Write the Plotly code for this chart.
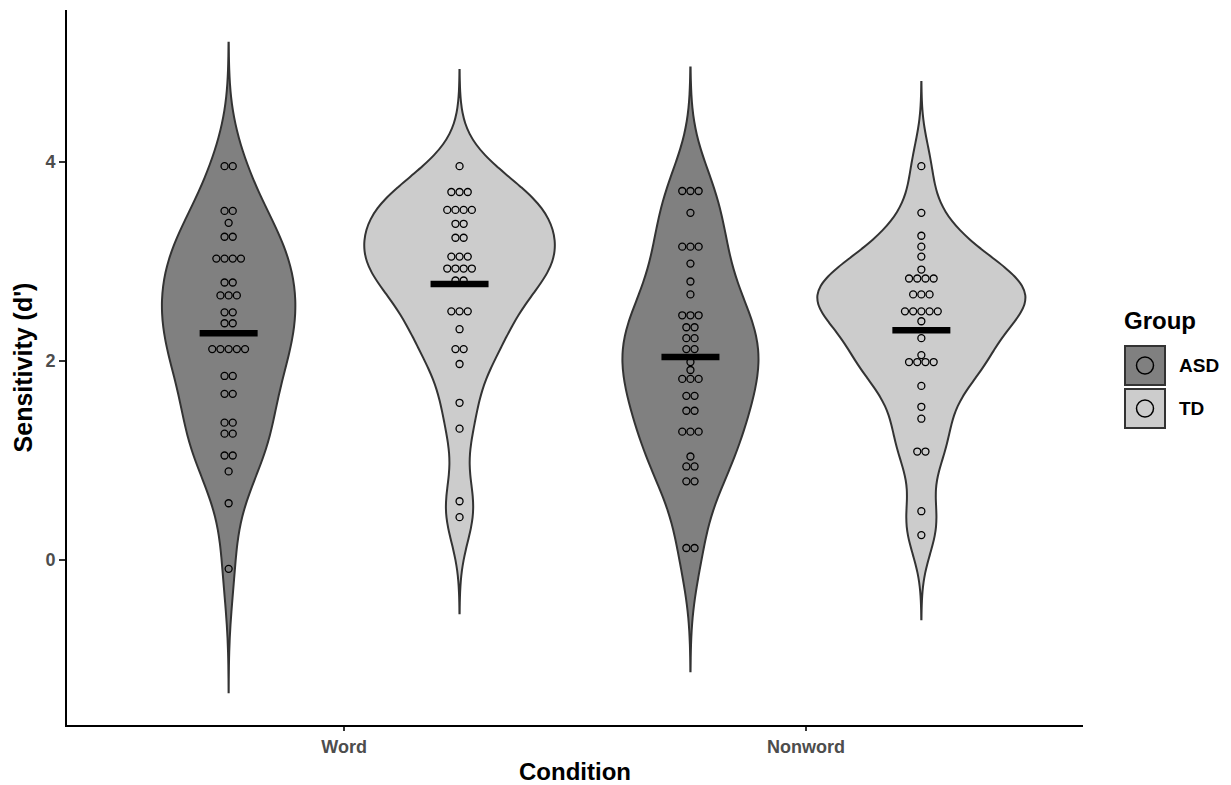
import numpy as np
import plotly.graph_objects as go

# ---------------- data ----------------
conditions = ["Word", "Nonword"]
groups = ["ASD", "TD"]

asd_word = [3.96, 3.96, 3.51, 3.51, 3.39, 3.25, 3.25, 3.03, 3.03, 3.03, 3.03,
            2.79, 2.79, 2.66, 2.66, 2.66, 2.49, 2.49, 2.38, 2.38,
            2.12, 2.12, 2.12, 2.12, 2.12, 1.85, 1.85, 1.67, 1.67,
            1.38, 1.38, 1.27, 1.27, 1.05, 1.05, 0.89, 0.57, -0.09]
td_word = [3.96, 3.70, 3.70, 3.70, 3.52, 3.52, 3.52, 3.52, 3.38, 3.38,
           3.24, 3.24, 3.05, 3.05, 3.05, 2.93, 2.93, 2.93, 2.93, 2.81, 2.81,
           2.50, 2.50, 2.50, 2.32, 2.12, 2.12, 1.97, 1.58, 1.32, 0.59, 0.43]
asd_nonword = [3.71, 3.71, 3.71, 3.49, 3.15, 3.15, 3.15, 2.98, 2.80, 2.67,
               2.46, 2.46, 2.46, 2.34, 2.34, 2.23, 2.23, 2.12, 2.12, 1.99, 1.91,
               1.82, 1.82, 1.82, 1.65, 1.65, 1.50, 1.50, 1.29, 1.29, 1.29,
               1.04, 0.94, 0.94, 0.79, 0.79, 0.12, 0.12]
td_nonword = [3.96, 3.49, 3.26, 3.15, 3.05, 2.92, 2.83, 2.83, 2.83, 2.83,
              2.67, 2.67, 2.67, 2.50, 2.50, 2.50, 2.50, 2.50, 2.40, 2.23, 2.06,
              1.99, 1.99, 1.99, 1.99, 1.75, 1.54, 1.42, 1.09, 1.09, 0.49, 0.25]

values = {
    ("Word", "ASD"): asd_word,
    ("Word", "TD"): td_word,
    ("Nonword", "ASD"): asd_nonword,
    ("Nonword", "TD"): td_nonword,
}

# ---------------- styling / layout ----------------
W, H = 1231, 785
PL, PR, PT, PB = 67, 1083, 10, 725
XR = [0.4, 2.6]
YR = [-1.66, 5.53]
FILL = {"ASD": "#808080", "TD": "#CCCCCC"}
OUTLINE = "#333333"
FONT = "Liberation Sans"
DODGE = {"ASD": -0.25, "TD": 0.25}
VIOLIN_W = 0.45          # full width of the widest violin (ggplot dodge 0.9 / 2)
XPX = (XR[1] - XR[0]) / (PR - PL)      # data units per pixel along x
DOT_STEP = 8.2 * XPX
MEAN_HALF = 29 * XPX


def nrd0(v):
    v = np.asarray(v, dtype=float)
    sd = v.std(ddof=1)
    q75, q25 = np.percentile(v, [75, 25])
    lo = min(sd, (q75 - q25) / 1.34)
    return 0.9 * lo * len(v) ** -0.2


def kde_max(v, bw):
    v = np.asarray(v, dtype=float)
    grid = np.linspace(v.min() - 3 * bw, v.max() + 3 * bw, 1024)
    z = (grid[:, None] - v[None, :]) / bw
    dens = np.exp(-0.5 * z ** 2).sum(axis=1) / (len(v) * bw * np.sqrt(2 * np.pi))
    return dens.max()


# area scaling (ggplot scale="area"): width proportional to each violin's peak density
bws = {k: nrd0(v) for k, v in values.items()}
peaks = {k: kde_max(v, bws[k]) for k, v in values.items()}
peak_all = max(peaks.values())

fig = go.Figure()

# violins
for ci, cond in enumerate(conditions):
    for g in groups:
        v = values[(cond, g)]
        bw = bws[(cond, g)]
        pos = ci + 1 + DODGE[g]
        fig.add_trace(go.Violin(
            x=[pos] * len(v), y=v, name=g, legendgroup=g, showlegend=False,
            bandwidth=bw, spanmode="manual", span=[min(v) - 3 * bw, max(v) + 3 * bw],
            width=VIOLIN_W * peaks[(cond, g)] / peak_all, scalemode="width",
            scalegroup=cond + g,
            fillcolor=FILL[g], line=dict(color=OUTLINE, width=2), opacity=1,
            points=False, box_visible=False, meanline_visible=False,
            hoverinfo="skip",
        ))

# dot stacks (centered)
for ci, cond in enumerate(conditions):
    for g in groups:
        v = values[(cond, g)]
        center = ci + 1 + DODGE[g]
        xs, ys = [], []
        uniq = []
        for val in v:
            if val not in uniq:
                uniq.append(val)
        for val in uniq:
            m = v.count(val)
            for k in range(m):
                xs.append(center + (k - (m - 1) / 2) * DOT_STEP)
                ys.append(val)
        fig.add_trace(go.Scatter(
            x=xs, y=ys, mode="markers", showlegend=False, hoverinfo="skip",
            marker=dict(size=7, color=FILL[g], line=dict(color="black", width=1.3)),
        ))

# mean bars
for ci, cond in enumerate(conditions):
    for g in groups:
        v = values[(cond, g)]
        center = ci + 1 + DODGE[g]
        mu = float(np.mean(v))
        fig.add_trace(go.Scatter(
            x=[center - MEAN_HALF, center + MEAN_HALF], y=[mu, mu], mode="lines",
            line=dict(color="black", width=6.5), showlegend=False, hoverinfo="skip",
        ))


# ---------------- manual legend (paper coords from pixels) ----------------
def px_x(p):
    return (p - PL) / (PR - PL)


def px_y(p):
    return (PB - p) / (PB - PT)


shapes = []
annotations = []
annotations.append(dict(text="Group", x=px_x(1122), y=px_y(321), xref="paper", yref="paper",
                        xanchor="left", yanchor="middle", showarrow=False,
                        font=dict(family=FONT, size=24, color="black", weight="bold")))
key_tops = {"ASD": 346, "TD": 389}
for g in groups:
    top = key_tops[g]
    shapes.append(dict(type="rect", xref="paper", yref="paper",
                       x0=px_x(1125), x1=px_x(1165), y0=px_y(top + 39), y1=px_y(top),
                       fillcolor=FILL[g], line=dict(color=OUTLINE, width=2), layer="above"))
    cy = top + 19.5
    shapes.append(dict(type="circle", xref="paper", yref="paper",
                       x0=px_x(1145 - 8.5), x1=px_x(1145 + 8.5),
                       y0=px_y(cy + 8.5), y1=px_y(cy - 8.5),
                       fillcolor=FILL[g], line=dict(color="black", width=1.5), layer="above"))
    annotations.append(dict(text=g, x=px_x(1177), y=px_y(cy), xref="paper", yref="paper",
                            xanchor="left", yanchor="middle", showarrow=False,
                            font=dict(family=FONT, size=19, color="black", weight="bold")))

fig.update_layout(
    width=W, height=H,
    margin=dict(l=PL, r=W - PR, t=PT, b=H - PB, pad=0),
    paper_bgcolor="white", plot_bgcolor="white",
    violinmode="overlay",
    showlegend=False,
    shapes=shapes, annotations=annotations,
    font=dict(family=FONT),
    xaxis=dict(
        range=XR, tickvals=[1, 2], ticktext=conditions, automargin=False,
        showgrid=False, zeroline=False,
        showline=True, linecolor="black", linewidth=2,
        ticks="outside", ticklen=4, tickwidth=1.5, tickcolor="#333333",
        tickfont=dict(family=FONT, size=18, color="#4D4D4D", weight="bold"),
        title=dict(text="Condition", standoff=10,
                   font=dict(family=FONT, size=24, color="black", weight="bold")),
    ),
    yaxis=dict(
        range=YR, tickvals=[0, 2, 4], automargin=False,
        showgrid=False, zeroline=False,
        showline=True, linecolor="black", linewidth=2,
        ticks="outside", ticklen=6, tickwidth=1.5, tickcolor="#333333",
        tickfont=dict(family=FONT, size=18, color="#4D4D4D", weight="bold"),
        title=dict(text="Sensitivity (d')", standoff=6,
                   font=dict(family=FONT, size=25, color="black", weight="bold")),
    ),
)

fig.write_html("out.html")
